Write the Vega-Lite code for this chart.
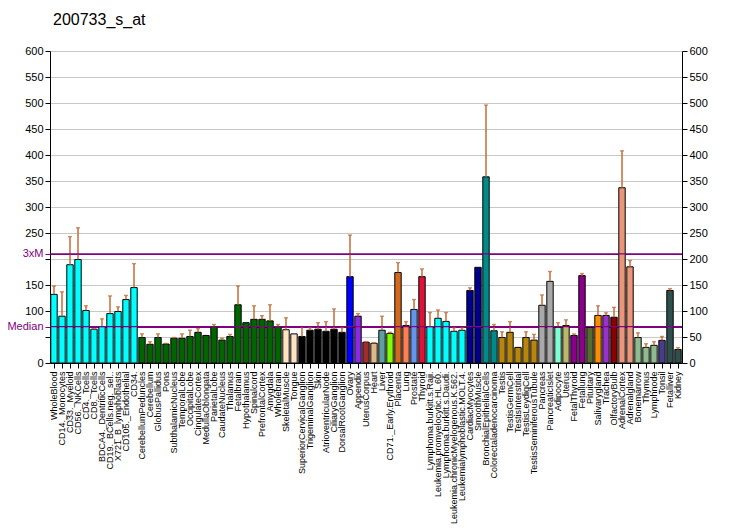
{
  "$schema": "https://vega.github.io/schema/vega-lite/v6.json",
  "autosize": {"type": "none"},
  "width": 632,
  "height": 312,
  "padding": {"left": 50, "top": 51, "right": 50, "bottom": 167},
  "title": {"text": "200733_s_at", "anchor": "start", "frame": "group", "offset": 17, "dx": 3, "fontSize": 16, "font": "Liberation Sans", "fontWeight": "normal", "color": "#000000"},
  "config": {"view": {"stroke": null}, "font": "Liberation Sans"},
  "datasets": {
    "expr": [
      {"t": "WholeBlood", "v": 132, "e": 148, "g": "g01"},
      {"t": "CD14._Monocytes", "v": 90, "e": 137, "g": "g01"},
      {"t": "CD33._Myeloid", "v": 189, "e": 243, "g": "g01"},
      {"t": "CD56._NKCells", "v": 199, "e": 260, "g": "g01"},
      {"t": "CD4._Tcells", "v": 101, "e": 110, "g": "g01"},
      {"t": "CD8._Tcells", "v": 65, "e": 66, "g": "g01"},
      {"t": "BDCA4._DentriticCells", "v": 70, "e": 85, "g": "g01"},
      {"t": "CD19._BCells.neg._sel..", "v": 95, "e": 129, "g": "g01"},
      {"t": "X721_B_lymphoblasts", "v": 99, "e": 108, "g": "g01"},
      {"t": "CD105._Endothelial", "v": 122, "e": 130, "g": "g01"},
      {"t": "CD34.", "v": 145, "e": 191, "g": "g01"},
      {"t": "CerebellumPeduncles", "v": 49, "e": 56, "g": "g02"},
      {"t": "Cerebellum", "v": 36, "e": 41, "g": "g02"},
      {"t": "GlobusPallidus", "v": 49, "e": 56, "g": "g02"},
      {"t": "Pons", "v": 36.5, "e": 37.5, "g": "g02"},
      {"t": "SubthalamicNucleus", "v": 47.5, "e": 49, "g": "g02"},
      {"t": "TemporalLobe", "v": 47.5, "e": 56, "g": "g02"},
      {"t": "OccipitalLobe", "v": 51, "e": 63, "g": "g02"},
      {"t": "CingulateCortex", "v": 59, "e": 66, "g": "g02"},
      {"t": "MedullaOblongata", "v": 53, "e": null, "g": "g02"},
      {"t": "ParietalLobe", "v": 70, "e": 74, "g": "g02"},
      {"t": "CaudateNucleus", "v": 44, "e": 47.5, "g": "g02"},
      {"t": "Thalamus", "v": 51, "e": 55, "g": "g02"},
      {"t": "Fetalbrain", "v": 112, "e": 148, "g": "g02"},
      {"t": "Hypothalamus", "v": 77.5, "e": null, "g": "g02"},
      {"t": "Spinalcord", "v": 84, "e": 110, "g": "g02"},
      {"t": "PrefrontalCortex", "v": 84, "e": 91, "g": "g02"},
      {"t": "Amygdala", "v": 81, "e": 112, "g": "g02"},
      {"t": "Wholebrain", "v": 70, "e": 74, "g": "g02"},
      {"t": "SkeletalMuscle", "v": 64, "e": 87, "g": "g03"},
      {"t": "Tongue", "v": 56, "e": null, "g": "g03"},
      {"t": "SuperiorCervicalGanglion", "v": 51, "e": 70, "g": "g04"},
      {"t": "TrigeminalGanglion", "v": 63, "e": 68, "g": "g04"},
      {"t": "Skin", "v": 65, "e": 77.5, "g": "g04"},
      {"t": "AtrioventricularNode", "v": 61, "e": 79.5, "g": "g04"},
      {"t": "CiliaryGanglion", "v": 65, "e": 104, "g": "g04"},
      {"t": "DorsalRootGanglion", "v": 59, "e": 68, "g": "g04"},
      {"t": "Ovary", "v": 166, "e": 246, "g": "g05"},
      {"t": "Appendix", "v": 90, "e": 95, "g": "g06"},
      {"t": "UterusCorpus", "v": 40, "e": 41, "g": "g07"},
      {"t": "Heart", "v": 38, "e": 39, "g": "g08"},
      {"t": "Liver", "v": 63, "e": 90, "g": "g09"},
      {"t": "CD71._Early.Erythroid", "v": 57, "e": 59, "g": "g10"},
      {"t": "Placenta", "v": 174, "e": 193, "g": "g11"},
      {"t": "Lung", "v": 72, "e": 79.5, "g": "g12"},
      {"t": "Prostate", "v": 103, "e": 122, "g": "g13"},
      {"t": "Thyroid", "v": 166, "e": 181, "g": "g14"},
      {"t": "Lymphoma.burkitt.s.Raji.", "v": 70, "e": 97, "g": "g01"},
      {"t": "Leukemia.promyelocytic.HL.60.", "v": 86, "e": 102, "g": "g01"},
      {"t": "Lymphoma.burkitt.s.Daudi.", "v": 80, "e": 97, "g": "g01"},
      {"t": "Leukemia.chronicMyelogenous.K.562.", "v": 61, "e": 68, "g": "g01"},
      {"t": "Leukemialymphoblastic.MOLT.4.", "v": 63, "e": 68, "g": "g01"},
      {"t": "CardiacMyocytes", "v": 139.5, "e": 144.5, "g": "g15"},
      {"t": "SmoothMuscle", "v": 184, "e": null, "g": "g15"},
      {"t": "BronchialEpithelialCells", "v": 358, "e": 496, "g": "g16"},
      {"t": "Colorectaladenocarcinoma", "v": 62, "e": 74, "g": "g16"},
      {"t": "Testis", "v": 49, "e": 60, "g": "g17"},
      {"t": "TestisGermCell", "v": 59, "e": 79.5, "g": "g17"},
      {"t": "TestisInterstitial", "v": 30, "e": null, "g": "g17"},
      {"t": "TestisLeydigCell", "v": 49, "e": 60, "g": "g17"},
      {"t": "TestisSeminiferousTubule", "v": 44, "e": 55, "g": "g17"},
      {"t": "Pancreas", "v": 111, "e": 131, "g": "g18"},
      {"t": "PancreaticIslet", "v": 157, "e": 176, "g": "g18"},
      {"t": "Adipocyte", "v": 68.5, "e": 77.5, "g": "g19"},
      {"t": "Uterus", "v": 72, "e": 83, "g": "g20"},
      {"t": "FetalThyroid", "v": 53, "e": 56, "g": "g21"},
      {"t": "Fetallung", "v": 168, "e": 172, "g": "g21"},
      {"t": "Pituitary", "v": 68.5, "e": null, "g": "g22"},
      {"t": "Salivarygland", "v": 91.5, "e": 110, "g": "g23"},
      {"t": "Trachea", "v": 91.5, "e": 96.5, "g": "g24"},
      {"t": "OlfactoryBulb", "v": 88, "e": 107, "g": "g25"},
      {"t": "AdrenalCortex", "v": 337, "e": 408, "g": "g26"},
      {"t": "Adrenalgland", "v": 185, "e": 197, "g": "g26"},
      {"t": "Bonemarrow", "v": 49, "e": 58, "g": "g27"},
      {"t": "Thymus", "v": 30, "e": 37, "g": "g27"},
      {"t": "Lymphnode", "v": 34, "e": 41, "g": "g27"},
      {"t": "Tonsil", "v": 43.5, "e": 51, "g": "g28"},
      {"t": "Fetalliver", "v": 139.5, "e": 143, "g": "g29"},
      {"t": "Kidney", "v": 26, "e": 29.5, "g": "g29"}
    ],
    "lines": [
      {"name": "Median", "y": 70},
      {"name": "3xM", "y": 210}
    ]
  },
  "data": {"name": "expr"},
  "encoding": {
    "x": {
      "field": "t", "type": "nominal", "sort": null,
      "scale": {"paddingInner": 0.2, "paddingOuter": 0.1},
      "axis": {"title": null, "labelAngle": -90, "labelFontSize": 9, "labelFont": "Liberation Sans", "labelColor": "#000000", "domainColor": "#000000", "tickColor": "#000000", "tickSize": 5, "labelPadding": 3, "labelOverlap": false, "labelLimit": 200}
    }
  },
  "layer": [
    {
      "mark": {"type": "bar", "stroke": "#000000", "strokeWidth": 1},
      "encoding": {
        "y": {
          "field": "v", "type": "quantitative",
          "scale": {"domain": [0, 600], "nice": false, "zero": true},
          "axis": {
            "orient": "left", "title": null,
            "values": [0, 50, 70, 100, 150, 200, 210, 250, 300, 350, 400, 450, 500, 550, 600],
            "labelExpr": "datum.value == 70 ? 'Median' : datum.value == 210 ? '3xM' : (datum.value == 50 || datum.value == 200) ? '' : datum.label",
            "labelColor": {"condition": {"test": "datum.value == 70 || datum.value == 210", "value": "#800080"}, "value": "#000000"},
            "tickColor": {"condition": {"test": "datum.value == 70 || datum.value == 210", "value": "#800080"}, "value": "#000000"},
            "gridColor": {"condition": {"test": "datum.value == 70 || datum.value == 210", "value": "#800080"}, "value": "#C8C8C8"},
            "labelFontSize": 11, "labelFont": "Liberation Sans", "labelOverlap": false, "labelFlush": false,
            "grid": true, "gridWidth": 1, "domainColor": "#000000", "tickSize": 5, "labelPadding": 2
          }
        },
        "color": {
          "field": "g", "type": "nominal", "legend": null,
          "scale": {
            "domain": ["g01","g02","g03","g04","g05","g06","g07","g08","g09","g10","g11","g12","g13","g14","g15","g16","g17","g18","g19","g20","g21","g22","g23","g24","g25","g26","g27","g28","g29"],
            "range": ["#00FFFF","#006400","#FFE4C4","#000000","#0000FF","#8A2BE2","#A52A2A","#DEB887","#5F9EA0","#7FFF00","#D2691E","#FF7F50","#6495ED","#DC143C","#00008B","#008B8B","#B8860B","#A9A9A9","#7FFFD4","#BDB76B","#8B008B","#556B2F","#FF8C00","#9932CC","#8B0000","#E9967A","#8FBC8F","#483D8B","#2F4F4F"]
          }
        }
      }
    },
    {
      "transform": [{"filter": "datum.e != null"}],
      "mark": {"type": "rule", "color": "#C0622A", "strokeWidth": 1.4},
      "encoding": {
        "y": {
          "field": "v", "type": "quantitative",
          "axis": {
            "orient": "right", "title": null,
            "values": [0, 50, 100, 150, 200, 250, 300, 350, 400, 450, 500, 550, 600],
            "labelFontSize": 11, "labelFont": "Liberation Sans", "labelColor": "#000000",
            "grid": false, "domainColor": "#000000", "tickColor": "#000000", "tickSize": 5, "labelPadding": 2, "labelOverlap": false, "labelFlush": false
          }
        },
        "y2": {"field": "e"}
      }
    },
    {
      "transform": [{"filter": "datum.e != null"}],
      "mark": {"type": "tick", "color": "#C0622A", "thickness": 1.4, "size": 4},
      "encoding": {
        "y": {"field": "e", "type": "quantitative", "axis": null}
      }
    },
    {
      "data": {"name": "lines"},
      "mark": {"type": "rule", "color": "#800080", "strokeWidth": 1.3},
      "encoding": {
        "y": {"field": "y", "type": "quantitative", "axis": null},
        "x": null
      }
    }
  ],
  "resolve": {"axis": {"y": "independent"}}
}
